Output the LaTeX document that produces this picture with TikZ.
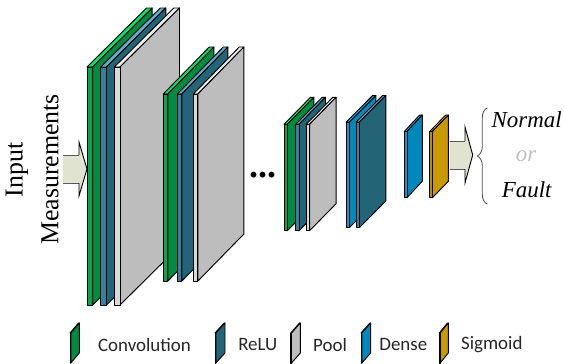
\documentclass[tikz,border=0pt]{standalone}
\usepackage{fontspec}
\setmainfont{Liberation Serif}
\newfontfamily\legendfont{Carlito}
\usetikzlibrary{decorations.pathreplacing}
\definecolor{topconv}{HTML}{14E070}
\definecolor{frontconv}{HTML}{00A850}
\definecolor{sideconv}{HTML}{008C40}
\definecolor{toprelu}{HTML}{5FAFCF}
\definecolor{frontrelu}{HTML}{34809F}
\definecolor{siderelu}{HTML}{236577}
\definecolor{toppool}{HTML}{EEEEEE}
\definecolor{frontpool}{HTML}{D9D9D9}
\definecolor{sidepool}{HTML}{BDBDBD}
\definecolor{topdense}{HTML}{30A8DC}
\definecolor{frontdense}{HTML}{1497CC}
\definecolor{sidedense}{HTML}{0088BB}
\definecolor{topsig}{HTML}{E0B020}
\definecolor{frontsig}{HTML}{B88E00}
\definecolor{sidesig}{HTML}{C99A00}
\definecolor{arrowfill}{HTML}{DFE3CF}
\tikzset{
	plateedge/.style={draw=black,line width=0.7pt,line join=round},
	biglabel/.style={font=\fontsize{19.4}{19.4}\selectfont,rotate=90},
	outlabel/.style={font=\fontsize{17.2}{17.2}\selectfont\itshape},
	legendlabel/.style={font=\fontsize{14.2}{14.2}\selectfont\legendfont,text=black!85}
}
% x, front top, front bottom, strip width, dx, dy, colour
\newcommand{\plate}[7]{
	\draw[plateedge,fill=top#7] (#1,#2) -- ({#1+#4},#2) -- ({#1+#4+#5},{#2-#6}) -- ({#1+#5},{#2-#6}) -- cycle;
	\draw[plateedge,fill=side#7] ({#1+#4},#2) -- ({#1+#4+#5},{#2-#6}) -- ({#1+#4+#5},{#3-#6}) -- ({#1+#4},#3) -- cycle;
	\draw[plateedge,fill=front#7] (#1,#2) rectangle ({#1+#4},#3);
}
% x tail, x head, x tip, y centre, half shaft, half head
\newcommand{\fatarrow}[6]{
	\fill[arrowfill] (#1,{#4-#5}) -- (#2,{#4-#5}) -- (#2,{#4-#6}) -- (#3,#4) -- (#2,{#4+#6}) -- (#2,{#4+#5}) -- (#1,{#4+#5}) -- cycle;
	\draw[black!65,line width=0.7pt] (#1,{#4-#5}) -- (#2,{#4-#5}) (#2,{#4+#5}) -- (#1,{#4+#5});
	\draw[black,line width=0.7pt] (#2,{#4-#5}) -- (#2,{#4-#6}) -- (#3,#4) -- (#2,{#4+#6}) -- (#2,{#4+#5});
}
\begin{document}
\begin{tikzpicture}[x=0.75pt,y=-0.75pt]
	\useasboundingbox (0,0) rectangle (564,364);
	\node[biglabel] (input) at (17,170) {Input};
	\node[biglabel] (meas) at (50,169.5) {Measurements};
	\fatarrow{63}{79}{87}{169}{14}{27}
	% groups of plates
	\foreach \px/\pc in {87/conv,100.7/relu,114.3/pool}
		\plate{\px}{67}{305}{5.7}{59.5}{59}{\pc};
	\foreach \px/\pc in {163.3/conv,177.3/relu,193.3/pool}
		\plate{\px}{94}{281}{4.6}{46}{47}{\pc};
	\foreach \px/\pc in {284/conv,295.7/relu,306.3/pool}
		\plate{\px}{124.3}{230.7}{3.3}{26.5}{27}{\pc};
	\foreach \px/\pc in {346.3/dense,356.3/relu}
		\plate{\px}{122}{227.5}{3.2}{26.3}{26.5}{\pc};
	\plate{404.3}{131.5}{197.7}{2.7}{15.3}{16.5}{dense}
	\plate{429.7}{131.5}{197.7}{2.7}{16}{16.5}{sig}
	\node[font=\fontsize{27}{27}\selectfont\bfseries,inner sep=0pt] (dots) at (262.5,174.7) {...};
	\fatarrow{450}{465}{472.7}{155}{14}{28}
	\draw[black!70,line width=0.6pt,decorate,decoration={brace,amplitude=7.5pt}] (487.3,204.3) -- (487.3,107.7);
	\node[outlabel] (normal) at (526.7,120) {Normal};
	\node[outlabel,text=black!25] (orlabel) at (526,156) {or};
	\node[outlabel] (fault) at (526.7,190) {Fault};
	% legend
	\foreach \lx/\lw/\lc/\lt/\tx in {70/9.3/conv/Convolution/144.5,215/10/relu/ReLU/257.8,290.7/9.6/pool/Pool/330,361/9.7/dense/Dense/403.3,439.3/9/sig/Sigmoid/491.8}{
		\plate{\lx}{333}{363}{0.8}{\lw-0.8}{10}{\lc}
		\node[legendlabel] (leg\lc) at (\tx,344.5) {\lt};
	}
\end{tikzpicture}
\end{document}
